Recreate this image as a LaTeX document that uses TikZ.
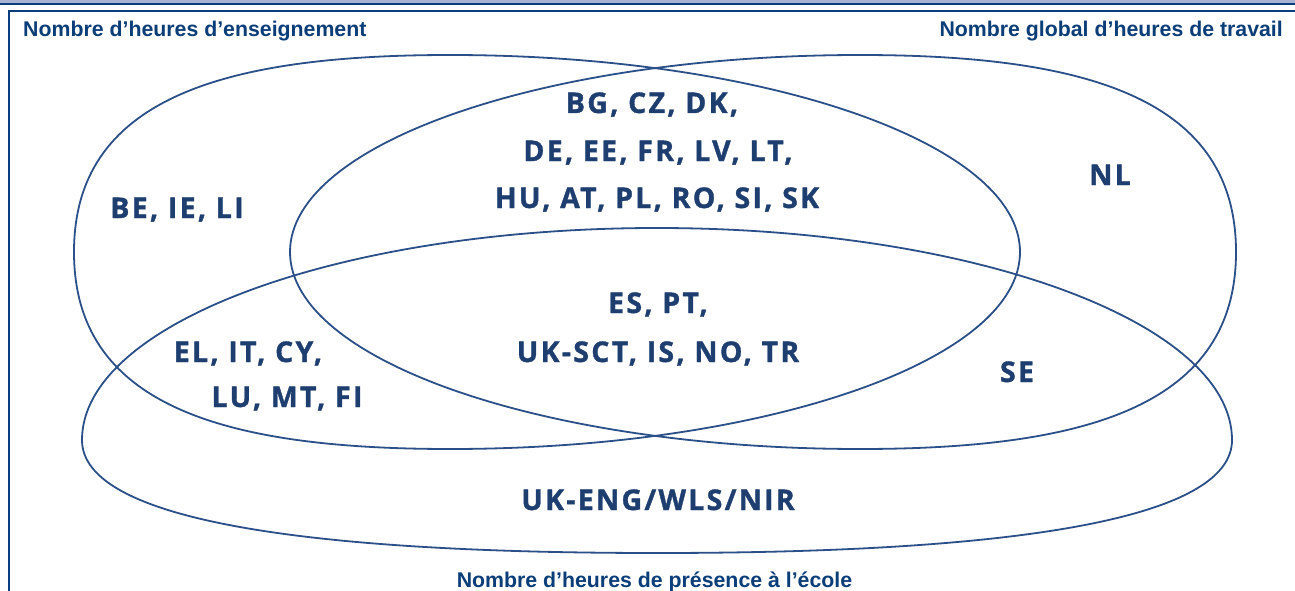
\documentclass[tikz,border=0pt]{standalone}
\usepackage{fontspec}
\setmainfont{Liberation Sans}
\newfontfamily\labfont[LetterSpace=8, BoldFeatures={FakeBold=1.2}]{Open Sans}
\definecolor{vennline}{HTML}{2B4F88}
\definecolor{ttlcol}{HTML}{0B3D78}
\definecolor{labcol}{HTML}{1E3E70}
\definecolor{framecol}{HTML}{0A3D7D}
\definecolor{bandcol}{HTML}{A9B3D3}
\tikzset{
  venn/.style={draw=vennline, line width=1.8pt},
  ttl/.style={text=ttlcol, font=\fontsize{21.3}{24}\selectfont\bfseries, inner sep=0pt},
  lab/.style={text=labcol, font=\labfont\fontsize{28.5}{30}\selectfont\bfseries, inner sep=0pt}
}
\begin{document}
\begin{tikzpicture}[x=1pt,y=-1pt]
\useasboundingbox (0,0) rectangle (1295,591);
% frame
\fill[bandcol] (0,0) rectangle (1295,3.4);
\draw[framecol, line width=1.5pt] (0,4.2) -- (1295,4.2);
\draw[framecol, line width=2.2pt] (9,591) -- (9,11) -- (1295,11);
% shape L : enseignement
\draw[venn] (1020,252) .. controls (1020,143.2) and (764.8,55) .. (450,55)
  .. controls (220,55) and (74,100) .. (74,252)
  .. controls (74,404) and (220,449) .. (450,449)
  .. controls (764.8,449) and (1020,360.8) .. (1020,252) -- cycle;
% shape R : travail
\draw[venn] (290,252) .. controls (290,143.2) and (545.2,55) .. (860,55)
  .. controls (1090,55) and (1236,100) .. (1236,252)
  .. controls (1236,404) and (1090,449) .. (860,449)
  .. controls (545.2,449) and (290,360.8) .. (290,252) -- cycle;
% shape P : presence
\draw[venn] (82,440) .. controls (82,322.9) and (339.4,228) .. (657,228)
  .. controls (974.6,228) and (1232,322.9) .. (1232,440)
  .. controls (1232,520) and (1010,553) .. (657,553)
  .. controls (304,553) and (82,520) .. (82,440) -- cycle;
% titles
\node[ttl, anchor=base west] (tens) at (23,37) {Nombre d’heures d’enseignement};
\node[ttl, anchor=base east] (ttrav) at (1283,37) {Nombre global d’heures de travail};
\node[ttl, anchor=base] (tpres) at (654.5,587) {Nombre d’heures de présence à l’école};
% labels
\node[lab, anchor=base] (a1) at (652,113) {BG, CZ, DK,};
\node[lab, anchor=base] (a2) at (658,161) {DE, EE, FR, LV, LT,};
\node[lab, anchor=base] (a3) at (657,208) {HU, AT, PL, RO, SI, SK};
\node[lab, anchor=base] (be) at (177,218) {BE, IE, LI};
\node[lab, anchor=base] (nl) at (1110,185) {NL};
\node[lab, anchor=base] (b1) at (658,313) {ES, PT,};
\node[lab, anchor=base] (b2) at (658,362) {UK-SCT, IS, NO, TR};
\node[lab, anchor=base] (c1) at (248,362) {EL, IT, CY,};
\node[lab, anchor=base] (c2) at (287,407) {LU, MT, FI};
\node[lab, anchor=base] (se) at (1017,382) {SE};
\node[lab, anchor=base] (uk) at (658,510) {UK-ENG/WLS/NIR};
\end{tikzpicture}
\end{document}
